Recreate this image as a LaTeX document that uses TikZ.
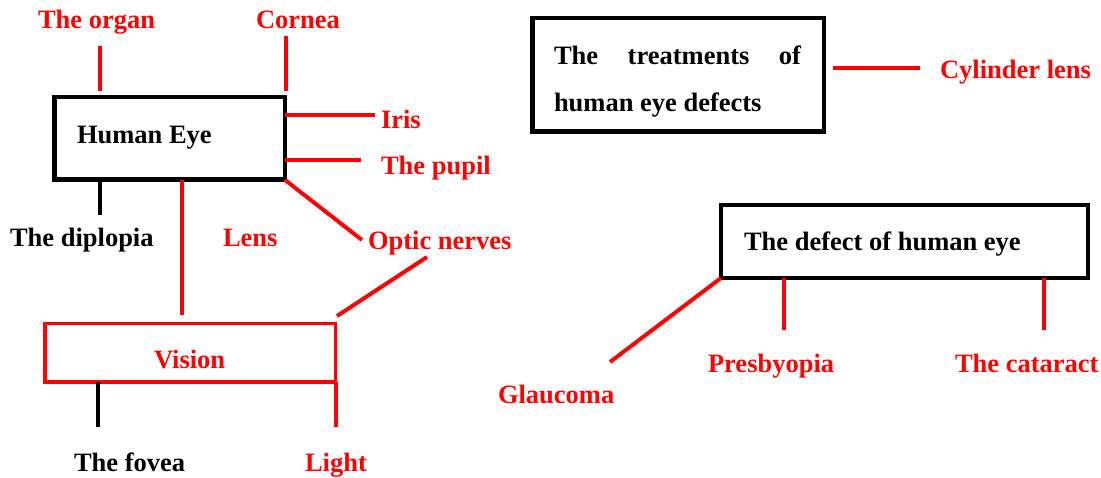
\documentclass[tikz,border=0pt]{standalone}
\usepackage{fontspec}
\setmainfont{Liberation Serif}
\begin{document}
\begin{tikzpicture}[x=1pt,y=-1pt,
  every node/.style={inner sep=0pt,outer sep=0pt,font=\fontsize{26.5}{30}\selectfont\bfseries},
  lbl/.style={anchor=base west},
  rlbl/.style={anchor=base west,text=red},
  bbox/.style={draw=black,line width=4.5pt,minimum width=#1},
  rbox/.style={draw=red,line width=3.5pt,minimum width=#1},
  rline/.style={draw=red,line width=4pt},
  kline/.style={draw=black,line width=4pt}]
\useasboundingbox (0,0) rectangle (1101,478);

% boxes
\node[bbox=230.5pt,minimum height=82.5pt] (eye) at (169.5,138.5) {};
\node[rbox=290.5pt,minimum height=58.5pt] (vision) at (190,353) {};
\node[bbox=291.5pt,minimum height=113.5pt] (treat) at (678,75) {};
\node[draw=black,line width=4pt,minimum width=367pt,minimum height=73pt] (defect) at (904.5,241.5) {};

% box texts
\node[lbl] (eyet) at (77,144) {Human Eye};
\node[rlbl] (visiont) at (154,369) {Vision};
\node[lbl,align=left] (treatt) at (554,65) {\makebox[247pt][s]{The treatments of}};
\node[lbl] (treatt2) at (554,112) {human eye defects};
\node[lbl] (defectt) at (744,251) {The defect of human eye};

% labels
\node[rlbl] (organ) at (38,29) {The organ};
\node[rlbl] (cornea) at (256,29) {Cornea};
\node[rlbl] (iris) at (381,129) {Iris};
\node[rlbl] (pupil) at (381,175) {The pupil};
\node[rlbl] (optic) at (368,250) {Optic nerves};
\node[lbl] (diplopia) at (10,247) {The diplopia};
\node[rlbl] (lens) at (223,247) {Lens};
\node[lbl] (fovea) at (74,471) {The fovea};
\node[rlbl] (light) at (305,471) {Light};
\node[rlbl] (cyl) at (940,79) {Cylinder lens};
\node[rlbl] (glau) at (498,403) {Glaucoma};
\node[rlbl] (presb) at (708,373) {Presbyopia};
\node[rlbl] (catar) at (955,373) {The cataract};

% connector end points
\coordinate (organA) at (100,46);  \coordinate (organB) at (100,91);
\coordinate (corneaA) at (285.5,36); \coordinate (corneaB) at (285.5,91);
\coordinate (irisE) at (375,115.5);
\coordinate (pupilE) at (361,160);
\coordinate (opticE) at (362,240);
\coordinate (diplE) at (100,215);
\coordinate (lensE) at (182,315);
\coordinate (optic2A) at (427,257); \coordinate (optic2B) at (337,316);
\coordinate (foveaE) at (98,427);
\coordinate (lightE) at (336,427);
\coordinate (cylA) at (833,68); \coordinate (cylB) at (920,68);
\coordinate (glauE) at (610,362);
\coordinate (presbE) at (783.5,330);
\coordinate (catarE) at (1044,330);

% connectors
\draw[rline] (organA) -- (organB);
\draw[rline] (corneaA) -- (corneaB);
\draw[rline] (eye.east |- irisE) -- (irisE);
\draw[rline] (eye.east |- pupilE) -- (pupilE);
\draw[rline] (eye.south east) -- (opticE);
\draw[kline] (eye.south -| diplE) -- (diplE);
\draw[rline] (eye.south -| lensE) -- (lensE);
\draw[rline] (optic2A) -- (optic2B);
\draw[kline] (vision.south -| foveaE) -- (foveaE);
\draw[rline] (vision.south -| lightE) -- (lightE);
\draw[rline] (cylA) -- (cylB);
\draw[rline] (defect.south west) -- (glauE);
\draw[rline] (defect.south -| presbE) -- (presbE);
\draw[rline] (defect.south -| catarE) -- (catarE);
\end{tikzpicture}
\end{document}
